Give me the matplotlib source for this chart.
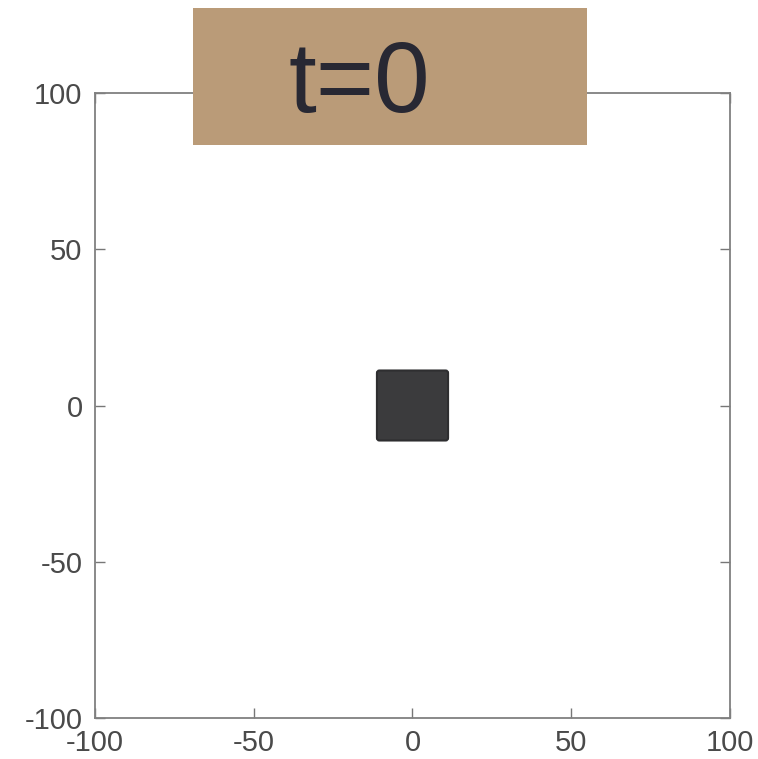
import matplotlib.pyplot as plt
import matplotlib.patches as patches

# data
xlim = [-100, 100]
ylim = [-100, 100]
ticks = [-100, -50, 0, 50, 100]
tick_labels = ['-100', '-50', '0', '50', '100']
square_center = (0, 0)
square_size = 24
title = "t=0"

plt.rcParams['font.family'] = ['Liberation Sans', 'DejaVu Sans']

fig = plt.figure(figsize=(7.58, 7.59), dpi=100)
W, H = 758, 759
ax = fig.add_axes([95 / W, 1 - 718 / H, 635 / W, 625 / H])
ax.set_xlim(xlim)
ax.set_ylim(ylim)

r = 0.8
sq = patches.FancyBboxPatch(
    (square_center[0] - square_size / 2 + r, square_center[1] - square_size / 2 + r),
    square_size - 2 * r, square_size - 2 * r,
    boxstyle="round,pad=0,rounding_size=%g" % r,
    facecolor='#3b3b3d', edgecolor='#2e2e30', linewidth=1.5)
ax.add_patch(sq)

ax.set_xticks(ticks)
ax.set_xticklabels(tick_labels)
ax.set_yticks(ticks)
ax.set_yticklabels(tick_labels)
ax.tick_params(direction='in', length=7, width=1, color='#777777',
               labelsize=21, labelcolor='#4a4a4a', right=True, top=True)
ax.tick_params(axis='x', pad=8)
ax.tick_params(axis='y', pad=9)
for s in ax.spines.values():
    s.set_color('#808080')
    s.set_linewidth(1.3)

# title box
box = patches.Rectangle((193 / W, 1 - 145 / H), 394 / W, 137 / H,
                        transform=fig.transFigure, facecolor='#ba9b78',
                        edgecolor='none', zorder=5)
fig.patches.append(box)
fig.text(288 / W, 1 - 86 / H, title, fontsize=72, color='#282833',
         ha='left', va='center', zorder=6)

fig.savefig('out.png', dpi=100, facecolor='white')
